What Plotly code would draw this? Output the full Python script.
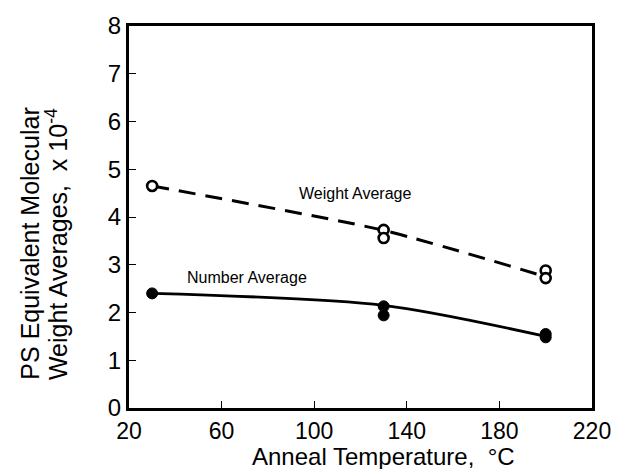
import plotly.graph_objects as go

# Data
wt_x = [30, 130, 130, 200, 200]
wt_y = [4.65, 3.73, 3.56, 2.88, 2.72]
num_x = [30, 130, 130, 200, 200]
num_y = [2.4, 2.13, 1.94, 1.55, 1.48]

wt_fit_x = [30, 130, 200]
wt_fit_y = [4.65, 3.72, 2.75]
num_fit_x = [30, 130, 200]
num_fit_y = [2.4, 2.15, 1.5]

x_ticks = [20, 60, 100, 140, 180, 220]
y_ticks = [0, 1, 2, 3, 4, 5, 6, 7, 8]

FONT = "Liberation Sans, Arial, Helvetica, sans-serif"

fig = go.Figure()
fig.add_trace(go.Scatter(x=wt_fit_x, y=wt_fit_y, mode="lines",
                         line=dict(color="black", width=3, dash="17px,10px", shape="spline", smoothing=0.6),
                         showlegend=False, hoverinfo="skip"))
fig.add_trace(go.Scatter(x=num_fit_x, y=num_fit_y, mode="lines",
                         line=dict(color="black", width=2.8, shape="spline", smoothing=0.8),
                         showlegend=False, hoverinfo="skip"))
fig.add_trace(go.Scatter(x=wt_x, y=wt_y, mode="markers",
                         marker=dict(symbol="circle", size=10, color="white",
                                     line=dict(color="black", width=2.6)),
                         showlegend=False))
fig.add_trace(go.Scatter(x=num_x, y=num_y, mode="markers",
                         marker=dict(symbol="circle", size=11, color="black",
                                     line=dict(color="black", width=1)),
                         showlegend=False))

fig.add_annotation(x=117.5, y=4.49, text="Weight Average", showarrow=False,
                   font=dict(family=FONT, size=16, color="black"))
fig.add_annotation(x=71, y=2.74, text="Number Average", showarrow=False,
                   font=dict(family=FONT, size=16, color="black"))

# axis titles as annotations for tight line spacing
fig.add_annotation(xref="paper", yref="paper", x=-0.214, y=0.43,
                   text="PS Equivalent Molecular", textangle=-90, showarrow=False,
                   xanchor="center", yanchor="middle",
                   font=dict(family=FONT, size=25, color="black"))
fig.add_annotation(xref="paper", yref="paper", x=-0.157, y=0.43,
                   text="Weight Averages,  x 10<sup>-4</sup>", textangle=-90, showarrow=False,
                   xanchor="center", yanchor="middle",
                   font=dict(family=FONT, size=25, color="black"))
fig.add_annotation(xref="paper", yref="paper", x=0.55, y=-0.128,
                   text="Anneal Temperature,  °C", showarrow=False,
                   xanchor="center", yanchor="middle",
                   font=dict(family=FONT, size=24, color="black"))

fig.update_xaxes(range=[20, 220], tickvals=x_ticks, ticktext=[str(v) for v in x_ticks],
                 ticks="inside", ticklen=7, tickwidth=1, tickcolor="black",
                 showline=True, linewidth=3, linecolor="black", mirror=True,
                 showgrid=False, zeroline=False, ticklabelstandoff=0,
                 tickfont=dict(family=FONT, size=23, color="black"))
fig.update_yaxes(range=[0, 8], tickvals=y_ticks,
                 ticks="inside", ticklen=7, tickwidth=1, tickcolor="black",
                 showline=True, linewidth=3, linecolor="black", mirror=True,
                 showgrid=False, zeroline=False,
                 tickfont=dict(family=FONT, size=24, color="black"))

fig.update_layout(width=623, height=469, plot_bgcolor="white", paper_bgcolor="white",
                  margin=dict(l=129, r=22, t=20, b=61))

fig.write_html("out.html")
